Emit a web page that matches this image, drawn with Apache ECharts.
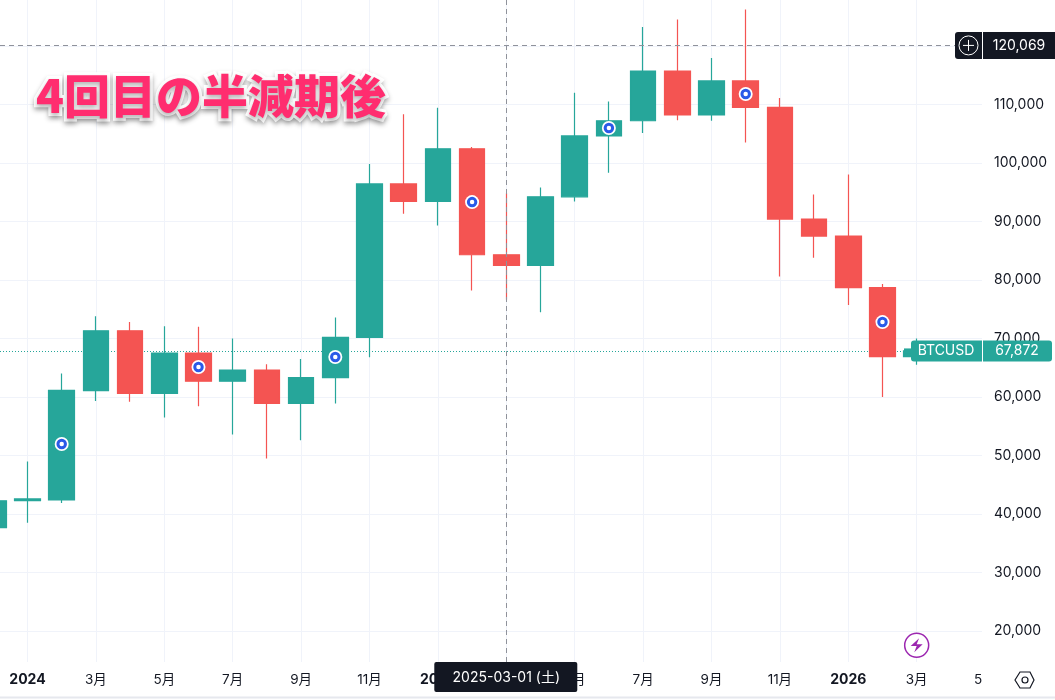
<!DOCTYPE html>
<html><head><meta charset="utf-8">
<style>html,body{margin:0;padding:0;background:#fff}#c{width:1055px;height:700px}</style>
<script src="https://cdn.jsdelivr.net/npm/echarts@6/dist/echarts.min.js"></script>
</head><body><div id="c"></div>
<script>
const months=['2023-12','2024-01','2024-02','2024-03','2024-04','2024-05','2024-06','2024-07','2024-08','2024-09','2024-10','2024-11','2024-12','2025-01','2025-02','2025-03','2025-04','2025-05','2025-06','2025-07','2025-08','2025-09','2025-10','2025-11','2025-12','2026-01','2026-02','2026-03'];
const opens =[37700,42280,42400,61100,71300,60600,67500,62700,64600,58900,63300,70200,96400,93400,102400,84300,82500,94200,104600,107200,115700,108200,114000,109500,90400,87500,78700,66900];
const closes=[42265,42580,61130,71300,60600,67500,62700,64600,58900,63300,70200,96400,93400,102400,84300,82500,94200,104600,107200,115700,108200,114000,109500,90400,87500,78700,66900,67872];
const lows  =[37600,38500,41900,59300,59200,56500,58400,53600,49500,52600,58900,66800,91300,89300,78200,76600,74500,93400,98300,105100,107300,107200,103500,80600,83800,75700,60000,65500];
const highs =[44700,49000,64000,73800,72800,72100,72000,70000,65600,66500,73600,99800,108300,109400,102700,94800,95800,112000,110500,123200,124500,117900,126200,111100,94600,98000,79300,70000];
const dotMonths=['2024-02','2024-06','2024-10','2025-02','2025-06','2025-10','2026-02'];
const dotValues=[51970,65125,66830,93300,105960,111770,72800];
const boltMonth=['2026-03'];
const boltValue=[17600];
const xTickMonths=['2024-01','2024-03','2024-05','2024-07','2024-09','2024-11','2025-01','2025-03','2025-05','2025-07','2025-09','2025-11','2026-01','2026-03'];
const xTickLabels=['2024','3月','5月','7月','9月','11月','2025','3月','5月','7月','9月','11月','2026','3月'];
const yTicks=[20000,30000,40000,50000,60000,70000,80000,90000,100000,110000,120000];
const titleText='4回目の半減期後';
const crossPrice=120069, lastPrice=67872, symbolName='BTCUSD', crossDate='2025-03-01 (土)', crossMonth='2025-03', cutLabel='5';

const UP='#26a69a', DOWN='#f45452', INK='#131722', GRID='#f0f3fa', FONT='Inter, "Noto Sans CJK JP", sans-serif';
const ix=m=>months.indexOf(m);
const chart=echarts.init(document.getElementById('c'),null,{renderer:'canvas'});
const xPos=xTickMonths.map(ix);
chart.setOption({
  animation:false,backgroundColor:'#fff',
  title:{text:titleText,left:31,top:68,textStyle:{fontFamily:'"Noto Sans CJK JP"',fontWeight:900,fontSize:46,color:'#ff2d6f',textBorderColor:'#fff',textBorderWidth:6,textShadowColor:'rgba(0,0,0,0.3)',textShadowBlur:5,textShadowOffsetY:3}},
  grid:{left:0,right:73,top:0,bottom:38},
  xAxis:{type:'value',min:0.196,max:28.91,
    axisLine:{show:false},axisTick:{show:false,customValues:xPos},
    splitLine:{show:true,lineStyle:{color:GRID,width:1}},
    axisLabel:{customValues:xPos,margin:11,fontFamily:FONT,fontSize:13.5,color:INK,
      formatter:v=>{const s=xTickLabels[xPos.indexOf(v)];return /^\d{4}$/.test(s)?'{b|'+s+'}':s;},
      rich:{b:{fontWeight:700,fontFamily:FONT,fontSize:14,color:INK}}}},
  yAxis:{type:'value',position:'right',min:14725,max:127828,
    axisLine:{show:false},axisTick:{show:false,customValues:yTicks},
    splitLine:{show:true,lineStyle:{color:GRID,width:1}},
    axisLabel:{customValues:yTicks,margin:12,fontFamily:FONT,fontSize:14,color:INK,formatter:v=>v.toLocaleString('en-US')}},
  series:[
    {type:'candlestick',barWidth:26,z:3,clip:true,
      data:months.map((m,i)=>[i,opens[i],closes[i],lows[i],highs[i]]),
      itemStyle:{color:UP,color0:DOWN,borderColor:UP,borderColor0:DOWN,borderWidth:1.2},
      markLine:{silent:true,symbol:'none',z:10,animation:false,label:{show:false},
        lineStyle:{color:'#8f929b',type:[5,4],width:1},
        data:[{yAxis:crossPrice},{xAxis:ix(crossMonth)}]}},
    {type:'scatter',z:5,symbol:'circle',symbolSize:14,silent:true,
      data:dotMonths.map((m,i)=>[ix(m),dotValues[i]]),itemStyle:{color:'#fff',opacity:1}},
    {type:'scatter',z:6,symbol:'circle',symbolSize:7.5,silent:true,
      data:dotMonths.map((m,i)=>[ix(m),dotValues[i]]),itemStyle:{color:'#fff',borderColor:'#2a5ae8',borderWidth:3,opacity:1},
      markLine:{silent:true,symbol:'none',z:1,animation:false,label:{show:false},
        lineStyle:{color:UP,type:[1,2],width:1},data:[{yAxis:lastPrice}]}},
    {type:'scatter',z:6,symbol:'circle',symbolSize:24,silent:true,
      data:boltMonth.map((m,i)=>[ix(m),boltValue[i]]),itemStyle:{color:'#fff',borderColor:'#9c27b0',borderWidth:1.5,opacity:1}},
    {type:'scatter',z:7,silent:true,symbolSize:[12,14],
      symbol:'path://M8 0 L1 9 L6 9 L4 16 L11 7 L6 7 Z',
      data:boltMonth.map((m,i)=>[ix(m),boltValue[i]]),itemStyle:{color:'#9c27b0',opacity:1}}
  ]
});
const yc=chart.convertToPixel({yAxisIndex:0},crossPrice), yl=chart.convertToPixel({yAxisIndex:0},lastPrice);
const xc=chart.convertToPixel({xAxisIndex:0},ix(crossMonth));
const T=(x,y,text,o)=>({type:'text',x,y,z:100,style:Object.assign({text,fontFamily:FONT,fontSize:14,fill:'#fff',align:'center',verticalAlign:'middle'},o||{})});
const R=(x,y,w,h,fill,r)=>({type:'rect',z:99,shape:{x,y,width:w,height:h,r:r||0},style:{fill}});
chart.setOption({graphic:[
  T(978,680,cutLabel,{fontSize:13.5,fill:INK}),
  R(xc-72,662,143,30,INK,2),
  T(xc,678,crossDate,{fontSize:14}),
  R(955,yc-13.5,27,27,INK,[3,0,0,3]),
  R(983,yc-13.5,72,27,INK,0),
  {type:'circle',z:100,shape:{cx:968.5,cy:yc,r:9.5},style:{fill:'none',stroke:'#fff',lineWidth:1}},
  {type:'line',z:100,shape:{x1:963,y1:yc,x2:974,y2:yc},style:{stroke:'#fff',lineWidth:1}},
  {type:'line',z:100,shape:{x1:968.5,y1:yc-5.5,x2:968.5,y2:yc+5.5},style:{stroke:'#fff',lineWidth:1}},
  T(1019,yc,crossPrice.toLocaleString('en-US')),
  R(904,yl-2.5,8,5,UP,0),
  R(911,yl-10.5,71,21,UP,[3,0,0,3]),
  R(983,yl-10.5,69,21,UP,[0,3,3,0]),
  T(946,yl,symbolName),
  T(1017,yl,lastPrice.toLocaleString('en-US')),
  {type:'polygon',z:100,shape:{points:[[1015,680],[1020,672],[1030,672],[1034,680],[1030,688],[1020,688]]},style:{fill:'none',stroke:INK,lineWidth:1.2}},
  {type:'circle',z:100,shape:{cx:1025,cy:680,r:3},style:{fill:'none',stroke:INK,lineWidth:1.2}},
  {type:'rect',z:100,shape:{x:0,y:696.5,width:1055,height:2},style:{fill:'#e6e8ee'}}
]});
</script></body></html>
